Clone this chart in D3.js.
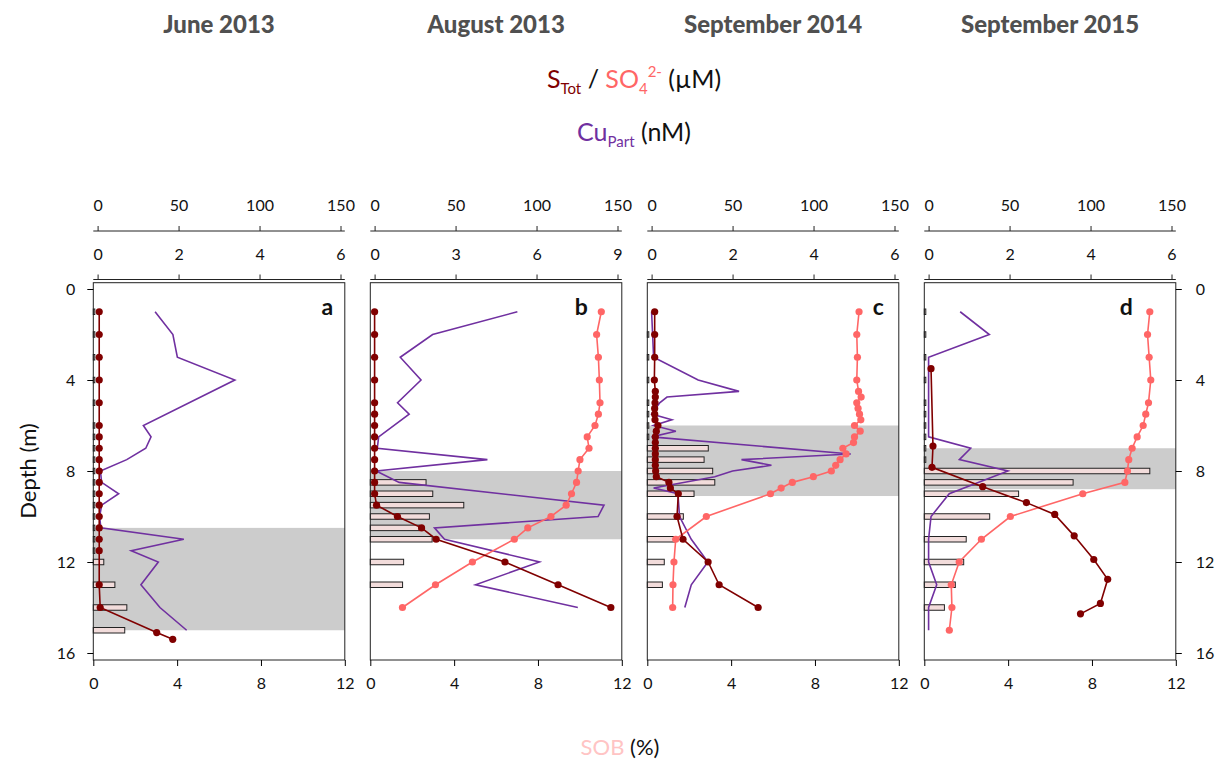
<!DOCTYPE html>
<html lang="en">
<head>
<meta charset="UTF-8">
<script src="https://d3js.org/d3.v7.min.js"></script>
<style>
  body { margin: 0; background: #fff; }
  svg { display: block; font-family: Lato, "Open Sans", sans-serif; }
</style>
</head>
<body>
<svg id="svg" width="1219" height="767"></svg>
<script>
// ---- data (depth in m) ----
const titles = ['June 2013', 'August 2013', 'September 2014', 'September 2015']
const letters = ['a', 'b', 'c', 'd']
const cuMax = [6, 9, 6, 6]
const cuTicks = [[0, 2, 4, 6], [0, 3, 6, 9], [0, 2, 4, 6], [0, 2, 4, 6]]
const sTicks = [0, 50, 100, 150]
const sobTicks = [0, 4, 8, 12]
const depthTicks = [0, 4, 8, 12, 16]

// grey bands (top, bottom)
const bandA = [10.5, 15]
const bandB = [8, 11]
const bandC = [6, 9.1]
const bandD = [7, 8.8]

// June 2013
const sDepthA = [1, 2, 3, 4, 5, 6, 6.5, 7, 7.5, 8, 8.5, 9, 9.5, 10, 10.5, 11, 11.5, 13, 14, 15.1, 15.4]
const sTotA   = [1, 1, 1, 1, 1, 1, 1, 1, 1, 1, 1, 1, 1, 1, 1, 1, 1, 1, 1.6, 36.5, 46.4]
const so4DepthA = []
const so4A = []
const cuDepthA = [1, 2, 3, 4, 6, 6.5, 7, 7.5, 8, 8.5, 9, 9.5, 10, 10.5, 11, 11.5, 12, 13, 14, 15]
const cuA      = [1.42, 1.86, 1.97, 3.39, 1.13, 1.32, 1.19, 0.72, 0.07, 0.1, 0.52, 0.1, 0.05, 0.08, 2.13, 0.83, 1.5, 1.07, 1.54, 2.2]
const sobDepthA = [1, 2, 3, 4, 5, 6, 6.5, 7, 7.5, 8, 8.5, 9, 9.5, 10, 10.5, 11, 11.5, 12, 13, 14, 15]
const sobA      = [0, 0, 0, 0, 0, 0, 0, 0, 0, 0, 0, 0, 0, 0, 0, 0, 0, 0.5, 1.03, 1.6, 1.5]

// August 2013
const sDepthB = [1, 2, 3, 4, 5, 5.5, 6, 6.5, 7, 7.5, 8, 8.5, 9, 9.5, 10, 10.5, 11, 12, 13, 14]
const sTotB   = [0, 0, 0, 0, 0, 0, 0, 0, 0, 0, 0, 0, 0, 1.2, 14.1, 29, 38, 80.5, 113.3, 145.9]
const so4DepthB = sDepthB
const so4B = [140, 137.1, 138.2, 138.8, 139.2, 138.2, 136.1, 131.3, 132.4, 126.8, 125.7, 124.7, 121.6, 118.3, 108.9, 94.6, 86.3, 60.4, 37.6, 17.2]
const cuDepthB = [1, 2, 3, 4, 5, 5.5, 6.5, 7, 7.5, 8, 8.5, 9.5, 10, 10.5, 11, 12, 13, 14]
const cuB      = [5.29, 2.15, 0.95, 1.72, 0.85, 1.28, 0.15, 0.1, 4.18, 0.06, 0.91, 8.5, 8.28, 2.22, 2.59, 6.11, 3.74, 7.53]
const sobDepthB = [8.5, 9, 9.5, 10, 10.5, 11, 12, 13]
const sobB      = [2.66, 2.98, 4.46, 2.82, 2.34, 2.95, 1.59, 1.54]

// September 2014
const sDepthC = [1, 2, 3, 4, 4.5, 4.75, 5, 5.25, 5.5, 5.75, 6, 6.25, 6.5, 6.75, 7, 7.25, 7.5, 7.75, 8, 8.25, 8.5, 8.75, 9, 10, 11, 12, 13, 14]
const sTotC   = [1.9, 1.9, 1.9, 1.7, 2.3, 2.3, 2.1, 1.9, 1.9, 2.1, 3.9, 2.9, 2.3, 2.3, 2.3, 2.3, 2.3, 2.3, 2.5, 2.9, 10.7, 11.6, 16.5, 15.7, 19.4, 34.9, 41.7, 65.8]
const so4DepthC = sDepthC
const so4C = [128.1, 126.7, 127.1, 126.7, 127.8, 129.4, 126.7, 127.5, 128.4, 129.2, 125.3, 128.8, 125.3, 124.7, 118.1, 120.1, 116.4, 113.7, 111, 99.9, 86.9, 80, 73.4, 33.8, 14.9, 13.8, 13.2, 13]
const cuDepthC = [1, 3, 4, 4.5, 4.75, 5, 5.25, 5.5, 5.75, 6, 6.25, 6.5, 7.25, 7.5, 7.75, 8, 8.25, 8.75, 9, 10, 11, 12, 13, 14]
const cuC      = [0, 0.05, 1.15, 2.16, 0.38, 0.2, 0.1, 0, 0.5, 0.05, 0.6, 0, 4.92, 2.22, 2.96, 2.0, 1.56, 0.05, 0.65, 0.69, 0.98, 1.39, 0.98, 0.82]
const sobDepthC = [2, 3, 4, 5, 5.5, 6, 6.5, 7, 7.5, 8, 8.5, 9, 10, 11, 12, 13]
const sobC      = [0, 0, 0, 0, 0, 0, 0, 2.91, 2.71, 3.12, 3.22, 2.23, 1.72, 1.3, 0.81, 0.72]

// September 2015
const sDepthD = [3.5, 6.9, 7.84, 8.69, 9.39, 9.91, 10.85, 11.89, 12.76, 13.82, 14.28]
const sTotD   = [1.5, 2.7, 2.1, 33.4, 60.4, 77.9, 89.9, 102, 110.6, 106.1, 93.8]
const so4DepthD = [1, 2, 3, 4, 5, 5.5, 6, 6.5, 7, 7.5, 8, 8.5, 9, 10, 11, 12, 13, 14, 15]
const so4D = [136.6, 135.2, 136.2, 137.2, 135.8, 134.1, 132.5, 128.8, 125.7, 123.6, 122.8, 121.2, 95.2, 50.5, 32.6, 18.9, 14, 14.4, 12.8]
const cuDepthD = [1, 2, 3, 6.5, 7, 7.5, 8, 9, 10, 11, 12, 13, 14, 15]
const cuD      = [0.78, 1.5, 0, 0, 1.04, 0.76, 1.96, 0.51, 0.06, 0, 0, 0.2, 0, 0]
const sobDepthD = [1, 2, 3, 4, 5, 5.5, 6, 6.5, 7, 7.5, 8, 8.5, 9, 10, 11, 12, 13, 14]
const sobD      = [0, 0, 0, 0, 0, 0, 0, 0, 0, 0, 10.76, 7.1, 4.5, 3.12, 2.0, 1.88, 1.48, 0.96]

// ---- colours & layout ----
const cS = '#800000', cSO4 = '#ff6666', cCu = '#7030a0'
const barFill = '#f2dcdb', bandFill = '#cccccc', titleColor = '#505050'
const panelLeft0 = 93.3, panelStep = 277, panelW = 251.5
const frameTop = 282.7, frameBottom = 660
const inset = 4.3
const letterDx = [234, 211, 231, 202]

const zip = (ds, vs) => ds.map((d, i) => ({ depth: d, v: vs[i] }))
const panels = [
  { band: bandA, s: zip(sDepthA, sTotA), so4: zip(so4DepthA, so4A), cu: zip(cuDepthA, cuA), sob: zip(sobDepthA, sobA) },
  { band: bandB, s: zip(sDepthB, sTotB), so4: zip(so4DepthB, so4B), cu: zip(cuDepthB, cuB), sob: zip(sobDepthB, sobB) },
  { band: bandC, s: zip(sDepthC, sTotC), so4: zip(so4DepthC, so4C), cu: zip(cuDepthC, cuC), sob: zip(sobDepthC, sobC) },
  { band: bandD, s: zip(sDepthD, sTotD), so4: zip(so4DepthD, so4D), cu: zip(cuDepthD, cuD), sob: zip(sobDepthD, sobD) }
]

const svg = d3.select('#svg')
const yscale = d3.scaleLinear().domain([0, 16]).range([289, 653])
const barH = 5.5
const fmt = d3.format('d')

panels.forEach((p, i) => {
  const left = panelLeft0 + i * panelStep
  const right = left + panelW
  const cx = (left + right) / 2
  const xS = d3.scaleLinear().domain([0, 150]).range([left + inset, right - inset])
  const xCu = d3.scaleLinear().domain([0, cuMax[i]]).range([left + inset, right - inset])
  const xSob = d3.scaleLinear().domain([0, 12]).range([left, right])

  // title
  svg.append('text').attr('x', cx).attr('y', 33).attr('text-anchor', 'middle')
    .attr('font-size', 24).attr('font-weight', 900).attr('fill', titleColor).text(titles[i])

  // grey band
  svg.append('rect').attr('x', left).attr('width', panelW)
    .attr('y', yscale(p.band[0])).attr('height', yscale(p.band[1]) - yscale(p.band[0]))
    .attr('fill', bandFill)

  // SOB bars
  svg.append('g').selectAll('rect').data(p.sob).enter().append('rect')
    .attr('x', xSob(0))
    .attr('y', d => yscale(d.depth) - barH / 2)
    .attr('width', d => Math.max(xSob(d.v) - xSob(0), 1.5))
    .attr('height', barH)
    .attr('fill', barFill).attr('stroke', '#222').attr('stroke-width', 1)

  // Cu line
  const line = (xs) => d3.line().x(d => xs(d.v)).y(d => yscale(d.depth))
  svg.append('path').datum(p.cu).attr('d', line(xCu))
    .attr('fill', 'none').attr('stroke', cCu).attr('stroke-width', 1.6)

  // SO4 and S lines with dots
  ;[[p.so4, cSO4], [p.s, cS]].forEach(([data, col]) => {
    if (!data.length) return
    svg.append('path').datum(data).attr('d', line(xS))
      .attr('fill', 'none').attr('stroke', col).attr('stroke-width', 1.6)
    svg.append('g').selectAll('circle').data(data).enter().append('circle')
      .attr('cx', d => xS(d.v)).attr('cy', d => yscale(d.depth)).attr('r', 3.6)
      .attr('fill', col)
  })

  // frame
  svg.append('rect').attr('x', left).attr('y', frameTop)
    .attr('width', panelW).attr('height', frameBottom - frameTop)
    .attr('fill', 'none').attr('stroke', '#222').attr('stroke-width', 1)

  // panel letter
  svg.append('text').attr('x', left + letterDx[i]).attr('y', 315).attr('text-anchor', 'middle')
    .attr('font-size', 23).attr('font-weight', 'bold').attr('fill', '#111').text(letters[i])

  // top axes
  const topAxis = (scale, ticks, y) => {
    const g = svg.append('g').attr('transform', `translate(0, ${y})`)
      .call(d3.axisTop(scale).tickValues(ticks).tickFormat(fmt).tickSize(5).tickPadding(15))
    g.select('.domain').remove()
    g.append('line').attr('x1', left).attr('x2', right).attr('stroke', '#222')
    g.selectAll('text').attr('font-size', 16).attr('fill', '#111').style('font-family', 'Lato, sans-serif')
    g.selectAll('line').attr('stroke', '#222')
  }
  topAxis(xS, sTicks, 231)
  topAxis(xCu, cuTicks[i], 279.5)

  // bottom axis
  const gb = svg.append('g').attr('transform', `translate(0, ${frameBottom})`)
    .call(d3.axisBottom(xSob).tickValues(sobTicks).tickFormat(fmt).tickSize(6).tickPadding(12))
  gb.select('.domain').remove()
  gb.selectAll('text').attr('font-size', 16).attr('fill', '#111').style('font-family', 'Lato, sans-serif')

  // depth axes
  if (i === 0 || i === 3) {
    const ax = i === 0 ? d3.axisLeft(yscale) : d3.axisRight(yscale)
    const ga = svg.append('g').attr('transform', `translate(${i === 0 ? left : right}, 0)`)
      .call(ax.tickValues(depthTicks).tickFormat(fmt).tickSize(6).tickPadding(i === 0 ? 12 : 14))
    ga.select('.domain').remove()
    ga.selectAll('text').attr('font-size', 16).attr('fill', '#111').style('font-family', 'Lato, sans-serif')
  }
})

// legend texts
const leg1 = svg.append('text').attr('x', 634).attr('y', 88).attr('text-anchor', 'middle').attr('font-size', 25)
leg1.append('tspan').attr('fill', cS).text('S')
leg1.append('tspan').attr('fill', cS).attr('font-size', 15).attr('dy', 6).text('Tot')
leg1.append('tspan').attr('dy', -6).attr('fill', '#111').text(' / ')
leg1.append('tspan').attr('fill', cSO4).text('SO')
leg1.append('tspan').attr('fill', cSO4).attr('font-size', 15).attr('dy', 6).text('4')
leg1.append('tspan').attr('fill', cSO4).attr('font-size', 15).attr('dy', -17).text('2-')
leg1.append('tspan').attr('fill', '#111').attr('dy', 11).text(' (µM)')

const leg2 = svg.append('text').attr('x', 634).attr('y', 141).attr('text-anchor', 'middle').attr('font-size', 25)
leg2.append('tspan').attr('fill', cCu).text('Cu')
leg2.append('tspan').attr('fill', cCu).attr('font-size', 15).attr('dy', 6).text('Part')
leg2.append('tspan').attr('fill', '#111').attr('dy', -6).text(' (nM)')

const leg3 = svg.append('text').attr('x', 620).attr('y', 755).attr('text-anchor', 'middle').attr('font-size', 22)
leg3.append('tspan').attr('fill', '#ffc4c4').text('SOB')
leg3.append('tspan').attr('fill', '#111').text(' (%)')

// depth label
svg.append('text').attr('transform', 'translate(36, 471) rotate(-90)').attr('text-anchor', 'middle')
  .attr('font-size', 22).attr('fill', '#111').text('Depth (m)')
</script>
</body>
</html>
